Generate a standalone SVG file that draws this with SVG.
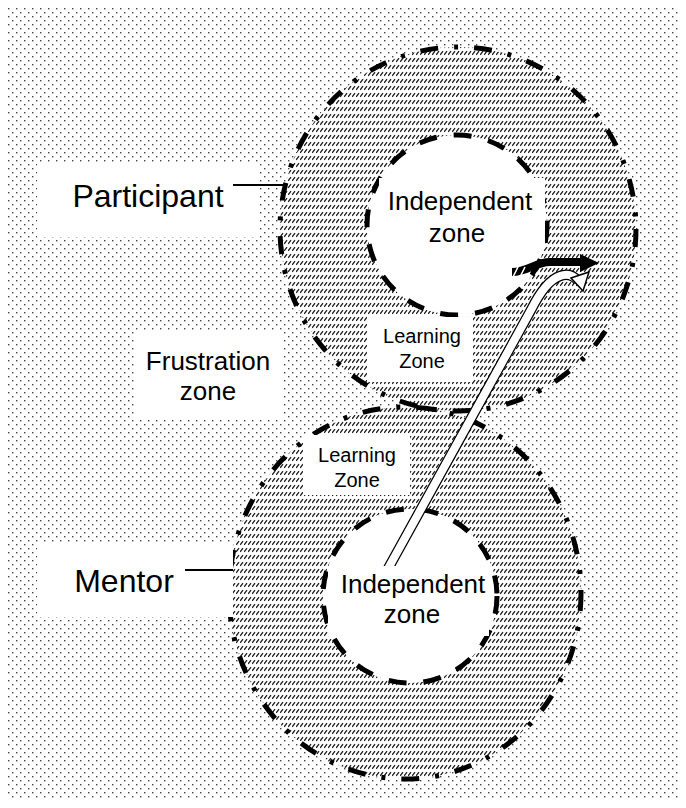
<svg xmlns="http://www.w3.org/2000/svg" width="686" height="808" viewBox="0 0 686 808">
<defs>
<pattern id="dots" width="8" height="8" patternUnits="userSpaceOnUse" x="8" y="8">
<rect x="0" y="0" width="1.4" height="1.4" fill="#444"/>
<rect x="4" y="4" width="1.4" height="1.4" fill="#444"/>
</pattern>
<pattern id="hatch" width="4" height="7" patternUnits="userSpaceOnUse">
<rect width="4" height="7" fill="#fff"/>
<path d="M0.2,5.8 L3,2.2" stroke="#1a1a1a" stroke-width="1.3"/>
</pattern>
<style>
.outerfill{fill:url(#hatch);stroke:none}
.outer{fill:none;stroke:#000;stroke-width:5;stroke-dasharray:18 16 4 16}
.inner{fill:#fff;stroke:#000;stroke-width:5;stroke-dasharray:18 17}
.box{fill:#fff;stroke:none}
.t{font-family:"Liberation Sans",Arial,sans-serif;fill:#000;text-anchor:middle}
.lead{stroke:#000;stroke-width:2;fill:none}
</style>
</defs>
<rect width="686" height="808" fill="#fff"/>
<rect x="8" y="8" width="670" height="792" fill="url(#dots)"/>

<g id="zones-fill">
<ellipse class="outerfill" cx="458" cy="229" rx="178" ry="182"/>
<ellipse class="outerfill" cx="405" cy="593" rx="176" ry="186"/>
</g>
<g id="participant-zone">
<ellipse class="outer" cx="458" cy="229" rx="178" ry="182"/>
<circle class="inner" cx="457" cy="225" r="90"/>
</g>
<g id="mentor-zone">
<ellipse class="outer" cx="405" cy="593" rx="176" ry="186"/>
<circle class="inner" cx="410" cy="596" r="87"/>
</g>

<g id="connectors">
<path d="M512,272 C528,272 535,262 550,262 L582,262" stroke="#000" stroke-width="8" fill="none"/>
<polygon points="580,254 599,263 580,272" fill="#000"/>
<path d="M518,267 L513,277 M525,267 L520,277" stroke="#fff" stroke-width="1.6"/>
<path d="M379,585 L531,310 C538,296 548,280 560,276 C568,273 574,276 578,281" stroke="#000" stroke-width="10.5" fill="none"/>
<path d="M379,585 L531,310 C538,296 548,280 560,276 C568,273 574,276 578,281" stroke="#fff" stroke-width="8" fill="none"/>
<polygon points="571,278 589,272 583,291" fill="#fff" stroke="#000" stroke-width="1.5"/>
</g>

<g id="participant-label">
<rect class="box" x="37" y="163" width="221" height="74"/>
<text class="t" x="148" y="207" font-size="32">Participant</text>
</g>
<g id="frustration-label">
<rect class="box" x="135" y="330" width="149" height="90"/>
<text class="t" x="208" y="370" font-size="26">Frustration</text>
<text class="t" x="208" y="400" font-size="26">zone</text>
</g>
<g id="mentor-label">
<rect class="box" x="37" y="543" width="196" height="74"/>
<text class="t" x="124" y="592" font-size="32">Mentor</text>
</g>
<g id="independent-top">
<rect class="box" x="379" y="178" width="166" height="71"/>
<text class="t" x="460" y="210" font-size="26">Independent</text>
<text class="t" x="457" y="242" font-size="26">zone</text>
</g>
<g id="learning-top">
<rect class="box" x="367" y="317" width="106" height="65"/>
<text class="t" x="422" y="343" font-size="20">Learning</text>
<text class="t" x="422" y="368" font-size="20">Zone</text>
</g>
<g id="learning-bottom">
<rect class="box" x="303" y="435" width="107" height="60"/>
<text class="t" x="357" y="462" font-size="20">Learning</text>
<text class="t" x="357" y="487" font-size="20">Zone</text>
</g>
<g id="independent-bottom">
<rect class="box" x="328" y="566" width="161" height="70"/>
<text class="t" x="413" y="593" font-size="26">Independent</text>
<text class="t" x="412" y="623" font-size="26">zone</text>
</g>
<g id="leaders">
<line class="lead" x1="233" y1="185" x2="283" y2="185"/>
<line class="lead" x1="185" y1="570" x2="233" y2="570"/>
</g>
</svg>
